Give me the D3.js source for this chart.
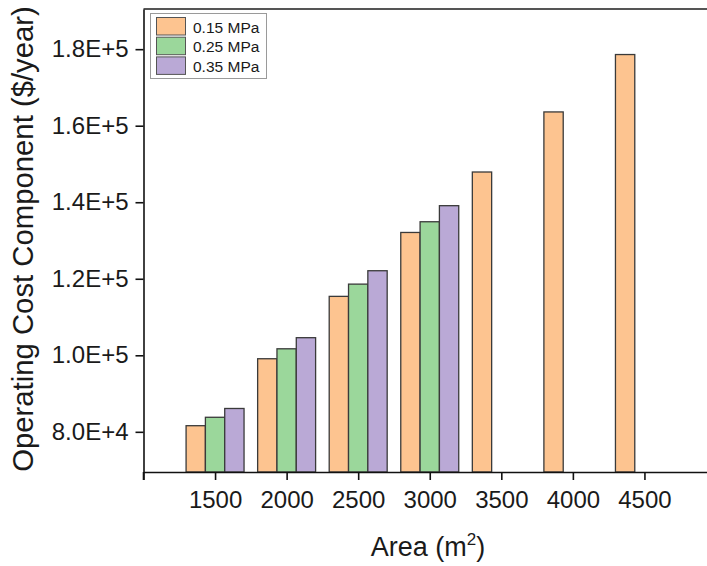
<!DOCTYPE html>
<html>
<head>
<meta charset="utf-8">
<script src="https://cdn.jsdelivr.net/npm/d3@7/dist/d3.min.js"></script>
<style>
  html, body { margin: 0; padding: 0; background: #fff; }
  svg { display: block; font-family: "Liberation Sans", Arial, sans-serif; }
</style>
</head>
<body>
<svg id="chart" width="707" height="566"></svg>
<script>
// Membrane area (m²) for each group of bars
const areas = [1500, 2000, 2500, 3000, 3500, 4000, 4500];

// Operating cost component ($/year) at each feed pressure
const cost015 = [81600, 99100, 115400, 132100, 147900, 163600, 178600];
const cost025 = [83800, 101700, 118600, 134900];
const cost035 = [86100, 104600, 122100, 139100];

const seriesNames = ["0.15 MPa", "0.25 MPa", "0.35 MPa"];
const seriesColors = ["#fdc490", "#9bd79b", "#baa9d6"];

const xTickValues = [1000, 1500, 2000, 2500, 3000, 3500, 4000, 4500];
const xTickLabels = ["", "1500", "2000", "2500", "3000", "3500", "4000", "4500"];
const yTickValues = [80000, 100000, 120000, 140000, 160000, 180000];
const yTickLabels = ["8.0E+4", "1.0E+5", "1.2E+5", "1.4E+5", "1.6E+5", "1.8E+5"];

const barWidth = 135; // in area units

const svg = d3.select("#chart");

const x = d3.scaleLinear().domain([1000, 5000]).range([143.5, 716]);
const y = d3.scaleLinear().domain([69500, 190500]).range([472, 9]);

const series = [cost015, cost025, cost035];

// Bars: three side-by-side bars centred on each area value
series.forEach((vals, si) => {
  svg.append("g")
    .selectAll("rect")
    .data(vals.map((v, i) => ({ area: areas[i], v })))
    .join("rect")
      .attr("x", d => x(d.area + (si - 1.5) * barWidth))
      .attr("width", x(d3.min(areas) + barWidth) - x(d3.min(areas)))
      .attr("y", d => y(d.v))
      .attr("height", d => y(69500) - y(d.v))
      .attr("fill", seriesColors[si])
      .attr("stroke", "#3a3a3a")
      .attr("stroke-width", 1.3);
});

// Top frame line
svg.append("line")
  .attr("x1", x(1000)).attr("x2", 707)
  .attr("y1", y(190500)).attr("y2", y(190500))
  .attr("stroke", "#555").attr("stroke-width", 2);

// Bottom axis
const xAxis = svg.append("g")
  .attr("transform", `translate(0,${y(69500)})`)
  .call(d3.axisBottom(x).tickValues(xTickValues)
    .tickFormat((d, i) => xTickLabels[i]).tickSize(8).tickSizeOuter(0));
xAxis.select(".domain").attr("stroke", "#111").attr("stroke-width", 1.6);
xAxis.selectAll(".tick line").attr("stroke", "#111").attr("stroke-width", 1.6);
xAxis.selectAll(".tick text")
  .attr("font-size", 24).attr("fill", "#1a1a1a")
  .attr("font-family", "Liberation Sans, Arial, sans-serif")
  .attr("y", 35.5).attr("dy", 0);

// Left axis
const yAxis = svg.append("g")
  .attr("transform", `translate(${x(1000)},0)`)
  .call(d3.axisLeft(y).tickValues(yTickValues)
    .tickFormat((d, i) => yTickLabels[i]).tickSize(8).tickSizeOuter(0));
yAxis.select(".domain").attr("stroke", "#111").attr("stroke-width", 1.6);
yAxis.selectAll(".tick line").attr("stroke", "#111").attr("stroke-width", 1.6);
yAxis.selectAll(".tick text")
  .attr("font-size", 24).attr("fill", "#1a1a1a")
  .attr("font-family", "Liberation Sans, Arial, sans-serif")
  .attr("x", -15);

// Left axis line extends down past the bottom axis
svg.append("line")
  .attr("x1", x(1000)).attr("x2", x(1000))
  .attr("y1", y(69500)).attr("y2", y(69500) + 8)
  .attr("stroke", "#111").attr("stroke-width", 1.6);

// Axis titles
const xTitle = svg.append("text")
  .attr("x", 428).attr("y", 556)
  .attr("text-anchor", "middle")
  .attr("font-size", 27).attr("fill", "#1a1a1a");
xTitle.append("tspan").text("Area (m");
xTitle.append("tspan").attr("font-size", 17).attr("dy", -11).text("2");
xTitle.append("tspan").attr("dy", 11).text(")");

svg.append("text")
  .attr("transform", "translate(33,239) rotate(-90)")
  .attr("text-anchor", "middle")
  .attr("font-size", 29.3).attr("fill", "#1a1a1a")
  .text("Operating Cost Component ($/year)");

// Legend
const legend = svg.append("g");
legend.append("rect")
  .attr("x", 150.5).attr("y", 13.5).attr("width", 116).attr("height", 65)
  .attr("fill", "#fff").attr("stroke", "#9a9a9a").attr("stroke-width", 1);
seriesNames.forEach((name, i) => {
  const row = legend.append("g").attr("transform", `translate(0,${17.5 + i * 19.7})`);
  row.append("rect")
    .attr("x", 156.5).attr("y", 0).attr("width", 29).attr("height", 17.5)
    .attr("fill", seriesColors[i]).attr("stroke", "#555").attr("stroke-width", 1);
  row.append("text")
    .attr("x", 193).attr("y", 15)
    .attr("font-size", 15.5).attr("fill", "#1a1a1a")
    .text(name);
});
</script>
</body>
</html>
